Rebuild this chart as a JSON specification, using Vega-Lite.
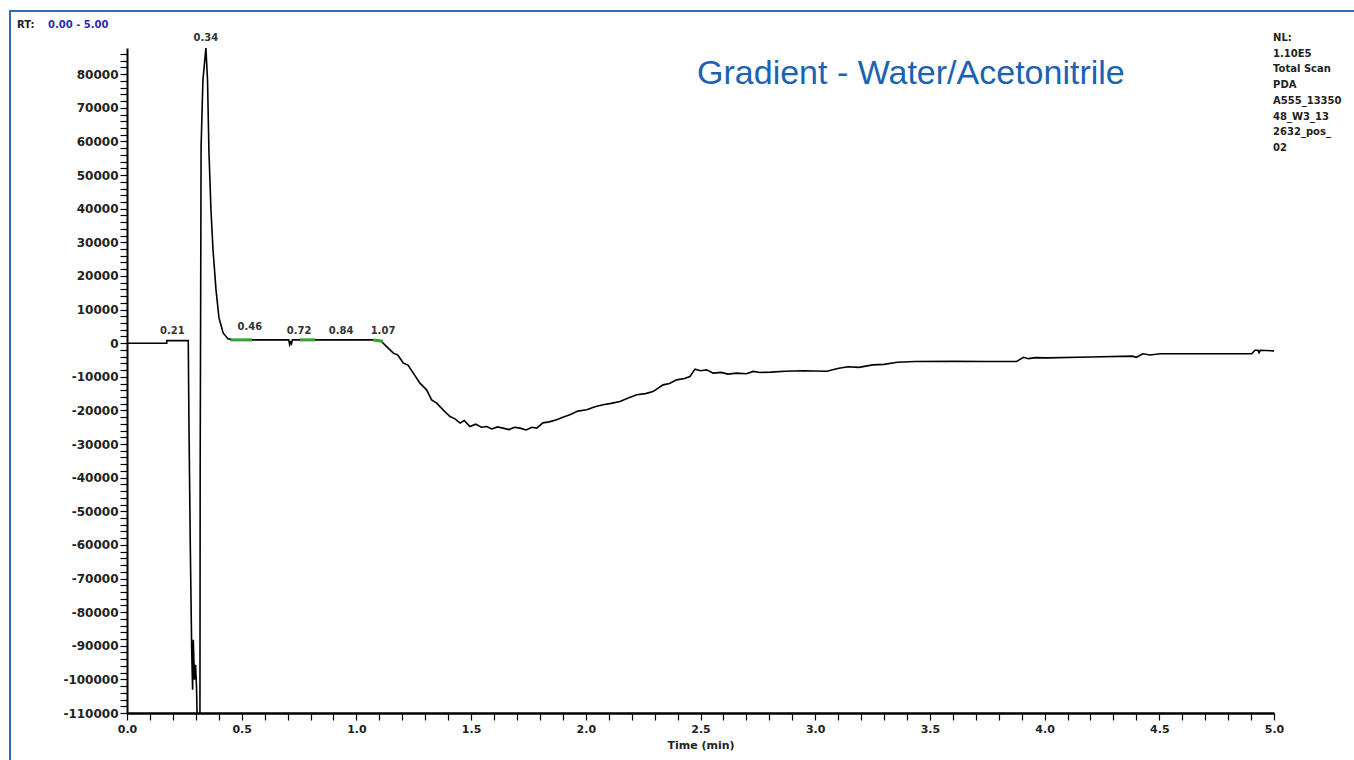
{
  "$schema": "https://vega.github.io/schema/vega-lite/v6.json",
  "width": 1147,
  "height": 665,
  "autosize": {"type": "none"},
  "padding": {"left": 127, "top": 48, "right": 80, "bottom": 47},
  "background": "white",
  "config": {
    "view": {"stroke": null},
    "axis": {"grid": false, "labelOverlap": false, "labelFlush": false, "domainColor": "#000000", "tickColor": "#000000", "tickSize": 7, "tickWidth": 1.2, "labelFont": "DejaVu Sans", "labelFontWeight": "bold", "labelColor": "#222222", "titleFont": "DejaVu Sans", "titleFontWeight": "bold", "titleFontSize": 11, "titleColor": "#222222"},
    "axisX": {
      "tickCount": 60,
      "labelExpr": "abs(datum.value*2 - round(datum.value*2)) < 0.001 ? format(datum.value, '.1f') : ''",
      "labelFontSize": 11, "domainWidth": 2.5, "labelPadding": 3, "titlePadding": 5
    },
    "axisY": {
      "tickCount": 120,
      "labelExpr": "abs(datum.value % 10000) < 1 ? '' + datum.value : ''",
      "labelFontSize": 12, "domainWidth": 2, "labelPadding": 2
    }
  },
  "datasets": {
    "trace": [
      {"t": 0, "v": 0}, {"t": 0.173, "v": 0}, {"t": 0.1735, "v": 770}, {"t": 0.267, "v": 770},
      {"t": 0.27, "v": -23300}, {"t": 0.276, "v": -60860}, {"t": 0.282, "v": -91180}, {"t": 0.286, "v": -103070},
      {"t": 0.289, "v": -88200}, {"t": 0.294, "v": -100100}, {"t": 0.299, "v": -95650}, {"t": 0.303, "v": -102190},
      {"t": 0.306, "v": -112000}, {"t": 0.308, "v": -130000}, {"t": 0.316, "v": -130000}, {"t": 0.318, "v": -110000},
      {"t": 0.319, "v": -37160}, {"t": 0.323, "v": 58360}, {"t": 0.331, "v": 78280}, {"t": 0.344, "v": 87800},
      {"t": 0.351, "v": 78280}, {"t": 0.357, "v": 57460}, {"t": 0.366, "v": 39620}, {"t": 0.375, "v": 27730},
      {"t": 0.388, "v": 15840}, {"t": 0.401, "v": 7520}, {"t": 0.419, "v": 3060}, {"t": 0.44, "v": 1280},
      {"t": 0.462, "v": 980}, {"t": 0.705, "v": 980}, {"t": 0.709, "v": -400}, {"t": 0.713, "v": 300},
      {"t": 0.717, "v": -200}, {"t": 0.721, "v": 980}, {"t": 1.09, "v": 980}, {"t": 1.11, "v": 480},
      {"t": 1.132, "v": -1010}, {"t": 1.161, "v": -2970}, {"t": 1.18, "v": -3500}, {"t": 1.205, "v": -5950},
      {"t": 1.225, "v": -6500}, {"t": 1.248, "v": -8920}, {"t": 1.277, "v": -11890}, {"t": 1.306, "v": -13880},
      {"t": 1.328, "v": -16860}, {"t": 1.35, "v": -17840}, {"t": 1.38, "v": -20000}, {"t": 1.408, "v": -21820},
      {"t": 1.43, "v": -22500}, {"t": 1.452, "v": -23780}, {"t": 1.47, "v": -23000}, {"t": 1.495, "v": -24790},
      {"t": 1.52, "v": -24100}, {"t": 1.545, "v": -25000}, {"t": 1.568, "v": -24790}, {"t": 1.59, "v": -25500},
      {"t": 1.615, "v": -24900}, {"t": 1.639, "v": -25270}, {"t": 1.665, "v": -25700}, {"t": 1.69, "v": -25000},
      {"t": 1.713, "v": -25270}, {"t": 1.74, "v": -25800}, {"t": 1.765, "v": -25000}, {"t": 1.786, "v": -25270},
      {"t": 1.813, "v": -23700}, {"t": 1.84, "v": -23400}, {"t": 1.873, "v": -22800}, {"t": 1.9, "v": -22000},
      {"t": 1.931, "v": -21310}, {"t": 1.965, "v": -20200}, {"t": 2.004, "v": -19820}, {"t": 2.04, "v": -18900},
      {"t": 2.075, "v": -18330}, {"t": 2.11, "v": -17900}, {"t": 2.149, "v": -17350}, {"t": 2.185, "v": -16300},
      {"t": 2.222, "v": -15360}, {"t": 2.26, "v": -15000}, {"t": 2.293, "v": -14390}, {"t": 2.337, "v": -12400},
      {"t": 2.365, "v": -12000}, {"t": 2.396, "v": -10910}, {"t": 2.43, "v": -10500}, {"t": 2.454, "v": -9930},
      {"t": 2.476, "v": -7730}, {"t": 2.5, "v": -8200}, {"t": 2.527, "v": -7940}, {"t": 2.555, "v": -8920},
      {"t": 2.59, "v": -8700}, {"t": 2.62, "v": -9200}, {"t": 2.657, "v": -8920}, {"t": 2.7, "v": -9100},
      {"t": 2.73, "v": -8400}, {"t": 2.759, "v": -8700}, {"t": 2.807, "v": -8600}, {"t": 2.868, "v": -8350},
      {"t": 2.95, "v": -8200}, {"t": 3.051, "v": -8350}, {"t": 3.098, "v": -7520}, {"t": 3.142, "v": -6990},
      {"t": 3.19, "v": -7200}, {"t": 3.251, "v": -6450}, {"t": 3.3, "v": -6300}, {"t": 3.358, "v": -5650},
      {"t": 3.435, "v": -5440}, {"t": 3.6, "v": -5400}, {"t": 3.75, "v": -5440}, {"t": 3.878, "v": -5440},
      {"t": 3.908, "v": -4190}, {"t": 3.93, "v": -4600}, {"t": 3.96, "v": -4300}, {"t": 4.014, "v": -4370},
      {"t": 4.2, "v": -4100}, {"t": 4.382, "v": -3860}, {"t": 4.4, "v": -4200}, {"t": 4.428, "v": -3150},
      {"t": 4.46, "v": -3500}, {"t": 4.505, "v": -3150}, {"t": 4.7, "v": -3150}, {"t": 4.903, "v": -3150},
      {"t": 4.917, "v": -2110}, {"t": 4.93, "v": -2110}, {"t": 4.935, "v": -2800}, {"t": 4.94, "v": -2110},
      {"t": 5.0, "v": -2290}
    ],
    "green": [
      {"seg": "a", "t": 0.452, "v": 980}, {"seg": "a", "t": 0.545, "v": 980},
      {"seg": "b", "t": 0.754, "v": 980}, {"seg": "b", "t": 0.82, "v": 980},
      {"seg": "c", "t": 1.072, "v": 980}, {"seg": "c", "t": 1.116, "v": 600}
    ],
    "peaks": [
      {"label": "0.21", "t": 0.198, "v": 3660},
      {"label": "0.34", "t": 0.344, "v": 90770},
      {"label": "0.46", "t": 0.536, "v": 4850},
      {"label": "0.72", "t": 0.75, "v": 3660},
      {"label": "0.84", "t": 0.933, "v": 3660},
      {"label": "1.07", "t": 1.116, "v": 3660}
    ]
  },
  "layer": [
    {
      "data": {"name": "trace"},
      "mark": {"type": "line", "color": "#000000", "strokeWidth": 1.6, "clip": true},
      "encoding": {
        "x": {"field": "t", "type": "quantitative", "title": "Time (min)", "scale": {"domain": [0, 5], "nice": false, "zero": false},
          "axis": {"values": [0, 0.1, 0.2, 0.3, 0.4, 0.5, 0.6, 0.7, 0.8, 0.9, 1.0, 1.1, 1.2, 1.3, 1.4, 1.5, 1.6, 1.7, 1.8, 1.9, 2.0, 2.1, 2.2, 2.3, 2.4, 2.5, 2.6, 2.7, 2.8, 2.9, 3.0, 3.1, 3.2, 3.3, 3.4, 3.5, 3.6, 3.7, 3.8, 3.9, 4.0, 4.1, 4.2, 4.3, 4.4, 4.5, 4.6, 4.7, 4.8, 4.9, 5.0]}},
        "y": {"field": "v", "type": "quantitative", "title": null, "scale": {"domain": [-110000, 87800], "nice": false, "zero": false},
          "axis": {"values": [-110000, -108000, -106000, -104000, -102000, -100000, -98000, -96000, -94000, -92000, -90000, -88000, -86000, -84000, -82000, -80000, -78000, -76000, -74000, -72000, -70000, -68000, -66000, -64000, -62000, -60000, -58000, -56000, -54000, -52000, -50000, -48000, -46000, -44000, -42000, -40000, -38000, -36000, -34000, -32000, -30000, -28000, -26000, -24000, -22000, -20000, -18000, -16000, -14000, -12000, -10000, -8000, -6000, -4000, -2000, 0, 2000, 4000, 6000, 8000, 10000, 12000, 14000, 16000, 18000, 20000, 22000, 24000, 26000, 28000, 30000, 32000, 34000, 36000, 38000, 40000, 42000, 44000, 46000, 48000, 50000, 52000, 54000, 56000, 58000, 60000, 62000, 64000, 66000, 68000, 70000, 72000, 74000, 76000, 78000, 80000, 82000, 84000, 86000]}}
      }
    },
    {
      "data": {"name": "green"},
      "mark": {"type": "line", "color": "#2fa52f", "strokeWidth": 3, "clip": true},
      "encoding": {
        "x": {"field": "t", "type": "quantitative", "title": "Time (min)"},
        "y": {"field": "v", "type": "quantitative", "title": null},
        "detail": {"field": "seg"}
      }
    },
    {
      "data": {"name": "peaks"},
      "mark": {"type": "text", "font": "DejaVu Sans", "fontWeight": "bold", "fontSize": 10, "color": "#333333", "align": "center", "baseline": "middle"},
      "encoding": {
        "x": {"field": "t", "type": "quantitative", "title": "Time (min)"},
        "y": {"field": "v", "type": "quantitative", "title": null},
        "text": {"field": "label"}
      }
    },
    {
      "data": {"values": [{}]},
      "mark": {"type": "rect", "fillOpacity": 0, "stroke": "#2e6db4", "strokeWidth": 2, "clip": false},
      "encoding": {
        "x": {"datum": -0.51, "type": "quantitative", "title": "Time (min)"},
        "x2": {"datum": 6},
        "y": {"datum": 98790, "type": "quantitative", "title": null},
        "y2": {"datum": -140000}
      }
    },
    {
      "data": {"values": [{}]},
      "mark": {"type": "text", "text": "Gradient - Water/Acetonitrile", "font": "Liberation Sans", "fontSize": 34, "color": "#1a63b3", "align": "left", "baseline": "alphabetic"},
      "encoding": {
        "x": {"datum": 2.485, "type": "quantitative", "title": "Time (min)"},
        "y": {"datum": 77090, "type": "quantitative", "title": null}
      }
    },
    {
      "data": {"values": [{}]},
      "mark": {"type": "text", "text": "RT:", "font": "DejaVu Sans", "fontWeight": "bold", "fontSize": 10, "color": "#222222", "align": "left", "baseline": "middle"},
      "encoding": {
        "x": {"datum": -0.4795, "type": "quantitative", "title": "Time (min)"},
        "y": {"datum": 94630, "type": "quantitative", "title": null}
      }
    },
    {
      "data": {"values": [{}]},
      "mark": {"type": "text", "text": "0.00 - 5.00", "font": "DejaVu Sans", "fontWeight": "bold", "fontSize": 10, "color": "#2b2bb0", "align": "left", "baseline": "middle"},
      "encoding": {
        "x": {"datum": -0.3444, "type": "quantitative", "title": "Time (min)"},
        "y": {"datum": 94630, "type": "quantitative", "title": null}
      }
    },
    {
      "data": {"values": [{}]},
      "mark": {"type": "text", "text": "NL:\n1.10E5\nTotal Scan\nPDA\nA555_13350\n48_W3_13\n2632_pos_\n02", "lineBreak": "\n", "lineHeight": 15.7, "font": "DejaVu Sans", "fontWeight": "bold", "fontSize": 10, "color": "#222222", "align": "left", "baseline": "top"},
      "encoding": {
        "x": {"datum": 4.996, "type": "quantitative", "title": "Time (min)"},
        "y": {"datum": 92250, "type": "quantitative", "title": null}
      }
    }
  ]
}
